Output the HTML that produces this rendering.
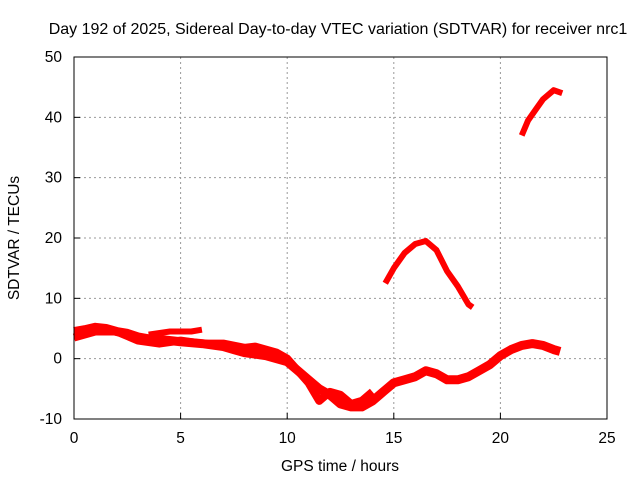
<!DOCTYPE html>
<html><head><meta charset="utf-8"><style>
body{margin:0;background:#fff;}
svg text{font-family:"Liberation Sans",sans-serif;font-size:15.5px;fill:#000;}
</style></head><body>
<svg id="c" width="640" height="480">
<text x="338" y="34" text-anchor="middle" style="font-size:16px">Day 192 of 2025, Sidereal Day-to-day VTEC variation (SDTVAR) for receiver nrc1</text>
<text x="340" y="471" text-anchor="middle">GPS time / hours</text>
<text transform="translate(19,238) rotate(-90)" text-anchor="middle">SDTVAR / TECUs</text>
<g id="grid"></g><g id="series"></g>
<rect x="74" y="57" width="533" height="362" fill="none" stroke="#000" stroke-width="1"/>
</svg>
<script>
const xTicks=[0,5,10,15,20,25];
const yTicks=[-10,0,10,20,30,40,50];
const bandA=[[0,4.5],[0.5,4.8],[1,5.2],[1.5,5.0],[2,4.5],[2.5,4.2],[3,3.6],[3.5,3.3],[4,3.2],[5,2.8],[6,2.5],[7,2],[7.5,1.5],[8,1],[9,0.5],[10,-0.5],[10.5,-2],[11,-3.5],[11.5,-5],[12,-6],[12.5,-7.5],[13,-8],[13.5,-8],[14,-7],[14.5,-5.5],[15,-4],[15.5,-3.5],[16,-3],[16.5,-2],[17,-2.5],[17.5,-3.5],[18,-3.5],[18.5,-3],[19,-2],[19.5,-1],[20,0.5],[20.5,1.5],[21,2.2],[21.5,2.5],[22,2.2],[22.5,1.5],[22.8,1.2]];
const bandB=[[0,3.5],[1,4.5],[2,4.5],[3,3],[4,2.5],[5,3],[6,2.5],[7,2.5],[8,1.8],[8.5,2],[9,1.5],[9.5,1],[10,0],[10.5,-2],[11,-4],[11.5,-7],[12,-5.5],[12.5,-6],[13,-7.5],[13.5,-7],[14,-5.5]];
const bandC=[[3.5,4],[4.5,4.5],[5.5,4.5],[6,4.8]];
const arcSeries=[[14.6,12.5],[15,15],[15.5,17.5],[16,19],[16.5,19.5],[17,18],[17.5,14.5],[18,12],[18.5,9],[18.7,8.5]];
const highSeries=[[21,37],[21.3,39.5],[21.7,41.5],[22,43],[22.5,44.5],[22.9,44]];
const X=t=>74+t*533/25, Y=v=>57+(50-v)*362/60;
const NS="http://www.w3.org/2000/svg";
const g=document.getElementById('grid'), s=document.getElementById('series');
function el(tag,attrs,parent){const e=document.createElementNS(NS,tag);for(const k in attrs)e.setAttribute(k,attrs[k]);parent.appendChild(e);return e;}
xTicks.forEach(t=>{
  if(t>0&&t<25){const l=el('line',{x1:X(t),x2:X(t),y1:57,y2:419,stroke:'#999','stroke-dasharray':'2,3'},g);
  
  }
  const tk=el('line',{x1:X(t),x2:X(t),y1:419,y2:413,stroke:'#000'},g);
  
  
  const tx=el('text',{x:X(t),y:443,'text-anchor':'middle'},g);tx.textContent=t;
  
  
});
yTicks.forEach(v=>{
  if(v>-10&&v<50){const l=el('line',{x1:74,x2:607,y1:Y(v),y2:Y(v),stroke:'#999','stroke-dasharray':'2,3'},g);
  
  }
  const tk=el('line',{x1:74,x2:80,y1:Y(v),y2:Y(v),stroke:'#000'},g);
  
  
  const tx=el('text',{x:62,y:Y(v)+5,'text-anchor':'end'},g);tx.textContent=v;
  
  
});
[[bandA,'sdtvar-track-main',9],[bandB,'sdtvar-track-offset',8],[bandC,'sdtvar-track-short',6],[arcSeries,'sdtvar-arc',6],[highSeries,'sdtvar-high-segment',6]].forEach(([d,n,w])=>{
  const p=el('polyline',{points:d.map(q=>X(q[0])+','+Y(q[1])).join(' '),fill:'none',stroke:'#f00','stroke-width':w,'stroke-linejoin':'round'},s);
  
  
});
</script>
</body></html>
